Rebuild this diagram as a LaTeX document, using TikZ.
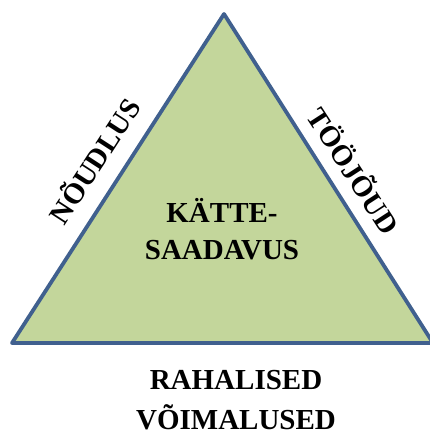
\documentclass[tikz,border=0pt]{standalone}
\usepackage{fontspec}
\setmainfont{Liberation Serif}
\usetikzlibrary{positioning}
\definecolor{edgeblue}{RGB}{64,96,142}
\definecolor{fillgreen}{RGB}{195,214,155}
\tikzset{lbl/.style={font=\bfseries\fontsize{29}{37}\selectfont, align=center, inner sep=0pt}}

\begin{document}
\begin{tikzpicture}[x=1pt,y=-1pt]
\useasboundingbox (0,0) rectangle (430,430);
\coordinate (top) at (224,14);
\coordinate (bl) at (12,343);
\coordinate (br) at (433,343);
\filldraw [fill=fillgreen, draw=edgeblue, line width=3.8pt, line join=round] (top)--(bl)--(br)--cycle;
\node [lbl] (center) at (222,229) {KÄTTE-\\SAADAVUS};
\node [lbl, rotate=57] (demand) at (93,160) {NÕUDLUS};
\node [lbl, rotate=-57] (labour) at (355,170) {TÖÖJÕUD};
\node [lbl, font=\bfseries\fontsize{29}{40}\selectfont] (money) at (236,400) {RAHALISED\\VÕIMALUSED};
\end{tikzpicture}
\end{document}
